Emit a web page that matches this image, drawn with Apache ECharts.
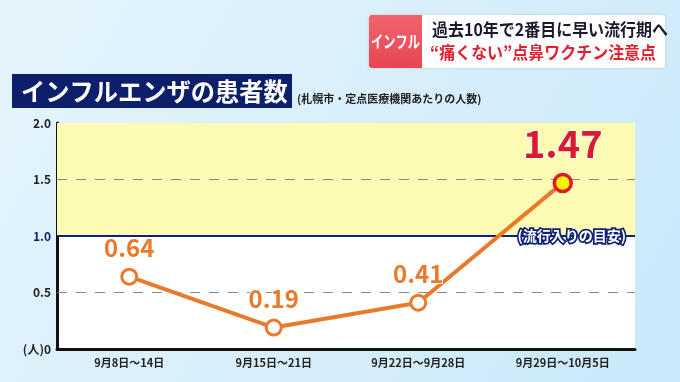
<!DOCTYPE html>
<html><head><meta charset="utf-8">
<script src="https://cdn.jsdelivr.net/npm/echarts@6/dist/echarts.min.js"></script>
<style>html,body{margin:0;padding:0;}#c{width:680px;height:382px;}</style>
</head><body><div id="c"></div>
<script>
const categories = ['9月8日〜14日', '9月15日〜21日', '9月22日〜9月28日', '9月29日〜10月5日'];
const patients = [0.64, 0.19, 0.41, 1.47];
const yTicks = [0, 0.5, 1.0, 1.5, 2.0];
const threshold = 1.0;
const thresholdLabel = '(流行入りの目安)';
const titleText = 'インフルエンザの患者数';
const subText = '(札幌市・定点医療機関あたりの人数)';
const bannerTag = 'インフル';
const bannerLine1 = '過去10年で2番目に早い流行期へ';
const bannerLine2 = '“痛くない”点鼻ワクチン注意点';

const FONT = '"Noto Sans CJK JP", "Noto Sans", sans-serif';
const ORANGE = '#ea7a2b';
const RED = '#dc1a2c';
const NAVY = '#0f2372';

const chart = echarts.init(document.getElementById('c'));
const lastIdx = patients.length - 1;

const seriesData = patients.map((v, i) => {
  if (i === lastIdx) {
    return {
      value: v, symbolSize: 17,
      itemStyle: { color: '#fff200', borderColor: RED, borderWidth: 3.5 },
      label: { fontSize: 38, color: RED, distance: 10, textBorderColor: '#fff', textBorderWidth: 2 }
    };
  }
  return { value: v };
});

chart.setOption({
  backgroundColor: {
    type: 'linear', x: 0, y: 0, x2: 1, y2: 1,
    colorStops: [{ offset: 0, color: '#e4f4fc' }, { offset: 0.5, color: '#d8effb' }, { offset: 1, color: '#c9e8f9' }]
  },
  animation: false,
  textStyle: { fontFamily: FONT },
  grid: { left: 57, right: 45, top: 123, bottom: 33, show: true, backgroundColor: '#ffffff', borderWidth: 0 },
  xAxis: {
    type: 'category', data: categories, boundaryGap: true,
    axisLine: { lineStyle: { color: '#111', width: 3 } },
    axisTick: { show: false },
    axisLabel: { color: '#222', fontSize: 11, fontWeight: 'bold', margin: 8, fontFamily: FONT }
  },
  yAxis: {
    type: 'value', min: 0, max: 2, interval: 0.5,
    axisLine: { show: true, lineStyle: { color: '#111', width: 3 } },
    axisTick: { show: false },
    splitLine: { show: false },
    axisLabel: {
      color: '#222', fontSize: 12, fontWeight: 'bold', margin: 6, fontFamily: FONT,
      formatter: v => v === 0 ? '(人)0' : (v === threshold ? '{n|' + v.toFixed(1) + '}' : v.toFixed(1)),
      rich: { n: { color: NAVY, fontSize: 12, fontWeight: 'bold', fontFamily: FONT } }
    }
  },
  graphic: [
    { type: 'rect', shape: { x: 12, y: 74, width: 280, height: 34 }, style: { fill: '#0d1f6b' } },
    { type: 'text', x: 21, y: 91, scaleX: 0.97, style: { text: titleText, fill: '#fff', font: 'bold 25px ' + FONT, textVerticalAlign: 'middle' } },
    { type: 'text', x: 297, y: 99, style: { text: subText, fill: '#222', font: 'bold 11px ' + FONT, textVerticalAlign: 'middle' } },
    { type: 'rect', shape: { x: 369, y: 15, width: 296, height: 53, r: 3 }, style: { fill: '#ffffff', shadowBlur: 3, shadowColor: 'rgba(0,0,0,0.15)' } },
    { type: 'rect', shape: { x: 369, y: 15, width: 53, height: 53, r: [3, 0, 0, 3] },
      style: { fill: { type: 'linear', x: 0, y: 0, x2: 0, y2: 1, colorStops: [{ offset: 0, color: '#f0646c' }, { offset: 1, color: '#e84552' }] } } },
    { type: 'text', x: 395.5, y: 41.5, scaleX: 0.72, style: { text: bannerTag, fill: '#fff', font: 'bold 17px ' + FONT, textAlign: 'center', textVerticalAlign: 'middle' } },
    { type: 'text', x: 432, y: 30, scaleX: 0.94, style: { text: bannerLine1, fill: '#1b1b2e', font: 'bold 17px ' + FONT, textVerticalAlign: 'middle' } },
    { type: 'text', x: 430, y: 53, scaleX: 0.94, style: { text: bannerLine2, fill: '#e3202e', font: 'bold 17px ' + FONT, textVerticalAlign: 'middle' } }
  ],
  series: [{
    type: 'line', data: seriesData, z: 5,
    lineStyle: { color: ORANGE, width: 4 },
    symbol: 'circle', symbolSize: 15,
    itemStyle: { color: '#fff', borderColor: ORANGE, borderWidth: 3 },
    label: {
      show: true, position: 'top', distance: 8, color: ORANGE, fontSize: 24, fontWeight: 'bold', fontFamily: FONT,
      textBorderColor: '#fff', textBorderWidth: 2
    },
    markArea: {
      silent: true, z: 1,
      itemStyle: { color: '#fdfbb3' },
      data: [[{ yAxis: threshold }, { yAxis: 2 }]]
    },
    markLine: {
      silent: true, symbol: 'none', z: 2,
      label: { show: false },
      data: [
        { yAxis: 0.5, lineStyle: { color: '#888', type: [10, 9], width: 1.2 } },
        { yAxis: 1.5, lineStyle: { color: '#888', type: [10, 9], width: 1.2 } },
        { yAxis: threshold, lineStyle: { color: NAVY, type: 'solid', width: 2 } }
      ]
    },
    markPoint: {
      silent: true, symbol: 'circle', symbolSize: 0,
      data: [{ coord: [categories[lastIdx], threshold] }],
      label: {
        show: true, position: 'inside', offset: [9, 0], formatter: thresholdLabel,
        color: '#fff', fontSize: 14, fontWeight: 'bold', fontFamily: FONT,
        textBorderColor: NAVY, textBorderWidth: 3.5
      }
    }
  }]
});
</script></body></html>
